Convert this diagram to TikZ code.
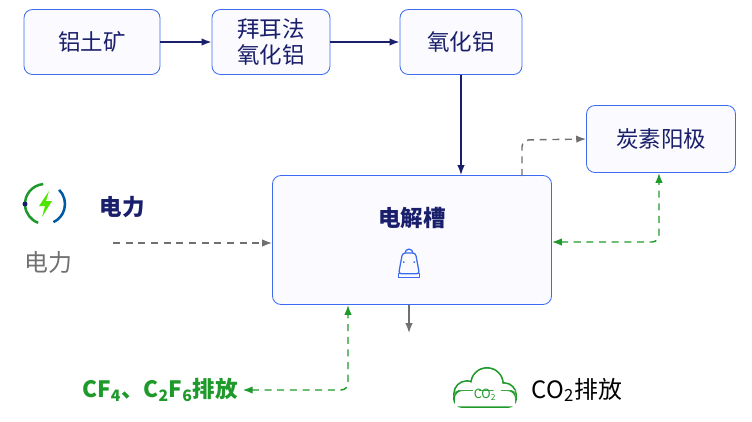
\documentclass[tikz,border=0pt]{standalone}
\usepackage{fontspec}
\setmainfont{Noto Sans CJK SC}
\usetikzlibrary{arrows.meta, positioning}
\definecolor{navy}{HTML}{1A1F6B}
\definecolor{boxblue}{HTML}{3D6BF0}
\definecolor{flowgreen}{HTML}{1E9A2A}
\definecolor{flowgray}{HTML}{707070}
\tikzset{
    procbox/.style={draw=boxblue, fill=blue!2, rounded corners=6pt, align=center, font=\fontsize{16}{19}\selectfont, text=navy, line width=0.6pt},
    mainarrow/.style={-{Latex[length=7pt]}, navy, line width=1.2pt},
    grayflow/.style={-{Latex[length=7pt]}, flowgray, dashed, dash pattern=on 5pt off 4pt, line width=1pt, rounded corners=5pt},
    greenflow/.style={{Latex[length=7pt]}-{Latex[length=7pt]}, flowgreen, dash pattern=on 5pt off 4pt, line width=1pt, rounded corners=5pt}
}
\begin{document}
\begin{tikzpicture}[x=0.025cm, y=-0.025cm]
    \useasboundingbox (0,0) rectangle (752,422);

    % process boxes
    \node[procbox, minimum width=136*0.025cm, minimum height=65*0.025cm] (ore) at (92,42) {铝土矿};
    \node[procbox, minimum width=118*0.025cm, minimum height=65*0.025cm] (bayer) at (271,42) {拜耳法\\氧化铝};
    \node[procbox, minimum width=122*0.025cm, minimum height=65*0.025cm] (alumina) at (461,42) {氧化铝};
    \node[procbox, minimum width=279*0.025cm, minimum height=129*0.025cm] (cell) at (412,240) {};
    \node[font=\fontsize{16}{19}\selectfont\bfseries, text=navy] (celltitle) at (412,218) {电解槽};
    \node[procbox, minimum width=149*0.025cm, minimum height=67*0.025cm] (anode) at (661,139) {炭素阳极};

    % cell icon
    \begin{scope}[shift={(409,266)}, scale=1.3, boxblue, line width=0.9pt]
        \draw (-3,-10) arc (180:360:3 and 3);
        \draw[rounded corners=2pt] (-5,-10) -- (5,-10) -- (8,6) -- (-8,6) -- cycle;
        \draw (-8,6) rectangle (8,9);
        \fill (-4,-3) circle (0.8) (4,-3) circle (0.8);
    \end{scope}

    % main flow
    \draw[mainarrow] (ore) -- (bayer);
    \draw[mainarrow] (bayer) -- (alumina);
    \draw[mainarrow] (alumina) -- (alumina |- cell.north);

    % anode feed
    \coordinate (anodeout) at (522,176);
    \draw[grayflow] (anodeout) -- (522,140) -- (anode.west);
    \coordinate (anodein) at (659,242);
    \draw[greenflow] (cell.east |- anodein) -- (anodein) -- (anode.south -| anodein);

    % power
    \begin{scope}[shift={(45,204)}, yscale=-1]
        \draw[flowgreen, line width=1.8pt] (95:20) arc (95:250:20);
        \draw[teal!70!blue, line width=1.8pt] (45:20) arc (45:-65:20);
        \fill[navy] (180:20) circle (2.5);
        \fill[green!55!lime!90!black] (4,13) -- (-6,-2) -- (0,-2) -- (-3,-13) -- (7,3) -- (1,3) -- cycle;
    \end{scope}
    \node[font=\fontsize{16}{19}\selectfont\bfseries, text=navy] (powertitle) at (122,207) {电力};
    \node[font=\fontsize{17}{19}\selectfont, text=flowgray] (powerlabel) at (48,262) {电力};
    \coordinate (powerout) at (113,243);
    \draw[grayflow] (powerout) -- (cell.west |- powerout);

    % outputs
    \coordinate (cellout) at (409,333);
    \draw[-{Latex[length=7pt]}, flowgray, line width=1pt] (cell.south -| cellout) -- (cellout);
    \node[font=\fontsize{16}{19}\selectfont\bfseries, text=flowgreen] (pfc) at (160,390) {CF\textsubscript{4}、C\textsubscript{2}F\textsubscript{6}排放};
    \coordinate (pfcbend) at (348,390);
    \draw[greenflow] (pfc.east) -- (pfcbend) -- (pfcbend |- cell.south);

    % CO2 cloud
    \begin{scope}[shift={(485,392)}]
        \draw[flowgreen, line width=1.4pt] (-18,2) circle (13) (2,-8) circle (16) (19,3) circle (12);
        \draw[flowgreen, line width=1.4pt, fill=white, rounded corners=6pt] (-31,-2) rectangle (31,15);
        \fill[white] (-18,2) circle (12.3) (2,-8) circle (15.3) (19,3) circle (11.3) (-30,-2) rectangle (30,14.3);
        \node[font=\fontsize{9}{10}\selectfont, text=flowgreen] (cloudtext) at (0,3) {CO\textsubscript{2}};
    \end{scope}
    \node[font=\fontsize{17}{19}\selectfont, text=black, anchor=west] (co2) at (527,390) {CO\textsubscript{2}排放};
\end{tikzpicture}
\end{document}
